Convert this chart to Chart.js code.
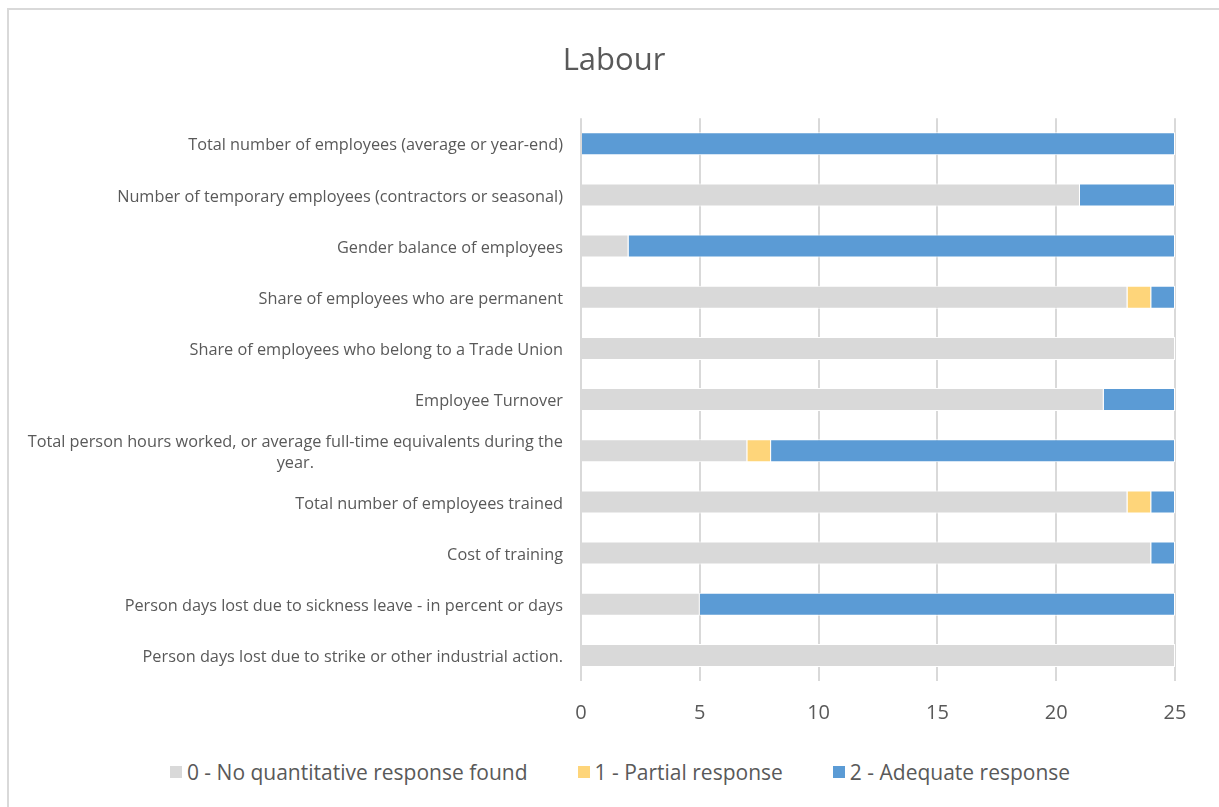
<!DOCTYPE html>
<html>
<head>
<meta charset="utf-8">
<title>Labour</title>
<script src="https://cdn.jsdelivr.net/npm/chart.js@4/dist/chart.umd.min.js"></script>
<style>
    html, body { margin: 0; padding: 0; background: #fff; overflow: hidden; }
    #frame {
        position: absolute; left: 7px; top: 8px; width: 1210px; height: 797px;
        border-left: 2px solid #d9d9d9; border-top: 2px solid #d9d9d9;
    }
    #wrap { position: absolute; left: 0; top: 0; width: 1210px; height: 735px; }
    #legend {
        position: absolute; left: 6px; top: 750px; width: 1210px;
        display: flex; justify-content: center; gap: 50px;
        font: 21px "Open Sans", sans-serif; color: #595959; line-height: 24px;
    }
    #legend span.item { display: flex; align-items: center; }
    #legend span.box { width: 12px; height: 12px; margin-right: 5px; display: inline-block; }
</style>
</head>
<body>
<div id="frame">
    <div id="wrap"><canvas id="labourChart"></canvas></div>
    <div id="legend"></div>
</div>
<script>
const categories = [
    "Total number of employees (average or year-end)",
    "Number of temporary employees (contractors or seasonal)",
    "Gender balance of employees",
    "Share of employees who are permanent",
    "Share of employees who belong to a Trade Union",
    "Employee Turnover",
    ["Total person hours worked, or average full-time equivalents during the", "year."],
    "Total number of employees trained",
    "Cost of training",
    "Person days lost due to sickness leave - in percent or days",
    "Person days lost due to strike or other industrial action."
];
const noResponse = [0, 21, 2, 23, 25, 22, 7, 23, 24, 5, 25];
const partialResponse = [0, 0, 0, 1, 0, 0, 1, 1, 0, 0, 0];
const adequateResponse = [25, 4, 23, 1, 0, 3, 17, 1, 1, 20, 0];
const seriesNames = ["0 - No quantitative response found", "1 - Partial response", "2 - Adequate response"];
const xTicks = [0, 5, 10, 15, 20, 25];

const textColor = "#595959";
const gridColor = "#d9d9d9";
const fontFamily = '"Open Sans", sans-serif';

// category labels: lines centred on each other, block right-aligned to the axis
const categoryLabels = {
    id: "categoryLabels",
    afterDraw(chart) {
        const { ctx } = chart;
        const y = chart.scales.y;
        const right = y.right - 18;
        ctx.save();
        ctx.font = "16.3px " + fontFamily;
        ctx.fillStyle = textColor;
        ctx.textAlign = "center";
        ctx.textBaseline = "middle";
        categories.forEach((label, i) => {
            const lines = [].concat(label);
            const widest = Math.max(...lines.map(l => ctx.measureText(l).width));
            const cx = right - widest / 2;
            const cy = y.getPixelForTick(i) + 2;
            lines.forEach((line, j) => {
                ctx.fillText(line, cx, cy + (j - (lines.length - 1) / 2) * 21);
            });
        });
        ctx.restore();
    }
};

document.addEventListener("DOMContentLoaded", function () {
    const ctx = document.getElementById("labourChart").getContext("2d");

    const chart = new Chart(ctx, {
        type: "bar",
        data: {
            labels: categories,
            datasets: [
                { label: seriesNames[0], data: noResponse, backgroundColor: "#d9d9d9" },
                { label: seriesNames[1], data: partialResponse, backgroundColor: "#fed57a" },
                { label: seriesNames[2], data: adequateResponse, backgroundColor: "#5b9bd5" }
            ].map(ds => Object.assign(ds, {
                borderColor: "#ffffff",
                borderWidth: 1,
                barPercentage: 0.45,
                categoryPercentage: 1
            }))
        },
        options: {
            indexAxis: "y",
            responsive: true,
            maintainAspectRatio: false,
            animation: false,
            layout: { padding: 0 },
            scales: {
                x: {
                    stacked: true,
                    min: 0,
                    max: 25,
                    afterBuildTicks: scale => { scale.ticks = xTicks.map(v => ({ value: v })); },
                    afterFit: scale => { scale.paddingRight = 44; },
                    grid: { color: gridColor, lineWidth: 2, drawTicks: false },
                    border: { display: false },
                    ticks: { color: textColor, font: { family: fontFamily, size: 20 }, padding: 20 }
                },
                y: {
                    stacked: true,
                    grid: { display: false },
                    border: { display: false },
                    ticks: { display: false },
                    afterFit: scale => { scale.width = 572; }
                }
            },
            plugins: {
                title: {
                    display: true,
                    text: "Labour",
                    color: textColor,
                    font: { family: fontFamily, size: 31, weight: "normal" },
                    padding: { top: 33, bottom: 38 }
                },
                legend: { display: false },
                tooltip: { enabled: false }
            }
        },
        plugins: [categoryLabels]
    });

    // legend below the chart, built from the datasets
    const legend = document.getElementById("legend");
    chart.data.datasets.forEach(ds => {
        const item = document.createElement("span");
        item.className = "item";
        const box = document.createElement("span");
        box.className = "box";
        box.style.background = ds.backgroundColor;
        item.appendChild(box);
        item.appendChild(document.createTextNode(ds.label));
        legend.appendChild(item);
    });
});
</script>
</body>
</html>
